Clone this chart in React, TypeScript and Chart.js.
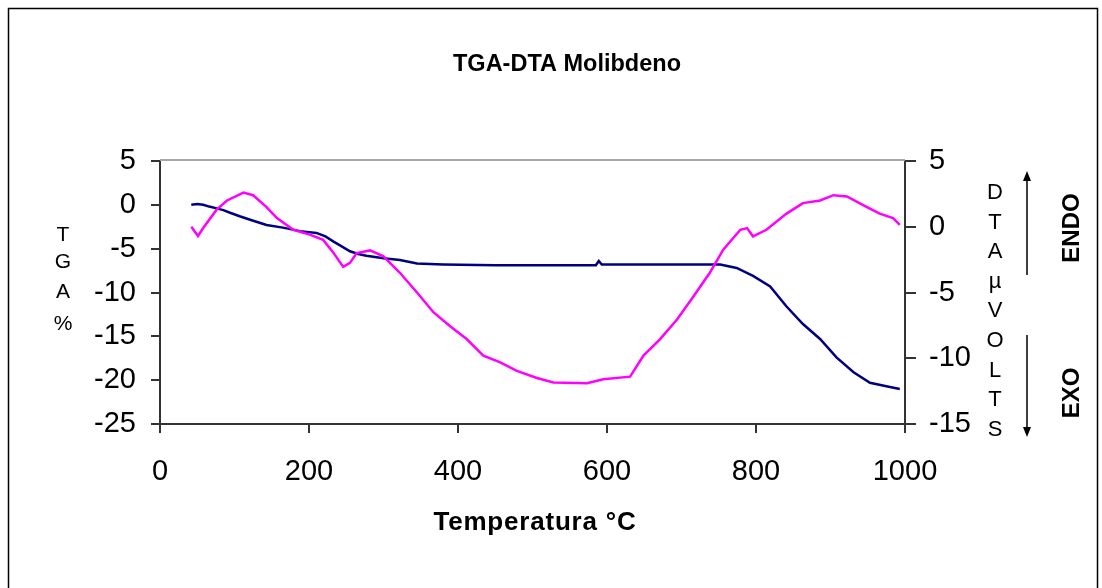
import React, { useEffect, useRef } from "react";
import { Chart, registerables } from "chart.js";
Chart.register(...registerables);

// ---- Data ----
const tgaTemp = [42, 50, 58, 66, 76, 85, 94, 107, 121, 143, 165, 188, 210, 222, 233, 245, 255, 266, 277, 300, 322, 345, 380, 450, 520, 585, 589, 593, 650, 700, 752, 774, 796, 819, 841, 863, 886, 908, 931, 953, 975, 993];
const tgaValues = [0, 0.1, 0, -0.2, -0.4, -0.6, -0.9, -1.3, -1.7, -2.3, -2.6, -3.0, -3.2, -3.6, -4.2, -4.8, -5.3, -5.6, -5.8, -6.1, -6.3, -6.7, -6.8, -6.9, -6.9, -6.9, -6.4, -6.8, -6.8, -6.8, -6.8, -7.2, -8.1, -9.3, -11.6, -13.6, -15.3, -17.4, -19.1, -20.3, -20.7, -21.0];

const dtaTemp = [42, 51, 58, 76, 90, 112, 125, 143, 157, 179, 201, 219, 233, 246, 255, 264, 282, 300, 322, 345, 367, 389, 412, 434, 456, 479, 506, 528, 573, 595, 631, 649, 671, 694, 716, 738, 756, 779, 788, 796, 814, 841, 863, 886, 904, 922, 949, 966, 984, 993];
const dtaValues = [0, -0.7, -0.1, 1.3, 2.0, 2.6, 2.4, 1.5, 0.66, -0.23, -0.6, -1.0, -2.0, -3.05, -2.75, -2.0, -1.8, -2.25, -3.5, -5.0, -6.5, -7.55, -8.56, -9.8, -10.3, -10.96, -11.5, -11.85, -11.9, -11.6, -11.4, -9.8, -8.56, -7.05, -5.3, -3.5, -1.74, -0.23, -0.1, -0.73, -0.23, 1.0, 1.8, 2.0, 2.4, 2.3, 1.5, 1.0, 0.66, 0.15];

const xTicks = [0, 200, 400, 600, 800, 1000];
const tgaTicks = [5, 0, -5, -10, -15, -20, -25];
const dtaTicks = [5, 0, -5, -10, -15];

const chartTitle = "TGA-DTA Molibdeno";
const xTitle = "Temperatura °C";
const leftTitle = ["T", "G", "A", "%"];
const rightTitle = ["D", "T", "A", "µ", "V", "O", "L", "T", "S"];

const FONT = "'Liberation Sans', Arial, sans-serif";

const decorations = {
  id: "decorations",
  beforeDraw(chart: any) {
    const ctx = chart.ctx;
    ctx.save();
    ctx.fillStyle = "#ffffff";
    ctx.fillRect(0, 0, chart.width, chart.height);
    ctx.restore();
  },
  afterDraw(chart: any) {
    const ctx = chart.ctx;
    const a = chart.chartArea;
    ctx.save();
    // outer frame
    ctx.strokeStyle = "#000";
    ctx.lineWidth = 1.5;
    ctx.strokeRect(8.5, 8.5, 1089, 700);
    // gray top border of plot area
    ctx.strokeStyle = "#a6a6a6";
    ctx.lineWidth = 2;
    ctx.beginPath();
    ctx.moveTo(a.left, a.top - 1);
    ctx.lineTo(a.right, a.top - 1);
    ctx.stroke();

    ctx.fillStyle = "#000";
    ctx.textAlign = "center";
    ctx.textBaseline = "middle";
    ctx.font = `bold 23.5px ${FONT}`;
    ctx.fillText(chartTitle, 567, 65);
    ctx.save();
    ctx.font = `bold 26px ${FONT}`;
    (ctx as any).letterSpacing = "0.8px";
    ctx.fillText(xTitle, 535, 523);
    ctx.restore();

    ctx.font = `21px ${FONT}`;
    const ly = [235, 262, 292, 324];
    leftTitle.forEach((t, i) => ctx.fillText(t, 63, ly[i]));
    ctx.font = `22px ${FONT}`;
    rightTitle.forEach((t, i) => ctx.fillText(t, 995, 193 + i * 29.6));

    // arrows
    ctx.strokeStyle = "#000";
    ctx.lineWidth = 1.5;
    ctx.beginPath();
    ctx.moveTo(1027, 275);
    ctx.lineTo(1027, 176);
    ctx.moveTo(1027, 335);
    ctx.lineTo(1027, 432);
    ctx.stroke();
    ctx.beginPath();
    ctx.moveTo(1027, 171);
    ctx.lineTo(1023, 181);
    ctx.lineTo(1031, 181);
    ctx.closePath();
    ctx.moveTo(1027, 437);
    ctx.lineTo(1023, 427);
    ctx.lineTo(1031, 427);
    ctx.closePath();
    ctx.fill();

    // ENDO / EXO
    ctx.font = `bold 24px ${FONT}`;
    ctx.save();
    ctx.translate(1072, 228);
    ctx.rotate(-Math.PI / 2);
    ctx.fillText("ENDO", 0, 0);
    ctx.restore();
    ctx.save();
    ctx.translate(1072, 393);
    ctx.rotate(-Math.PI / 2);
    ctx.fillText("EXO", 0, 0);
    ctx.restore();
    ctx.restore();
  },
};

export default function App() {
  const ref = useRef<HTMLCanvasElement>(null);
  useEffect(() => {
    const tgaData = tgaTemp.map((t, i) => ({ x: t, y: tgaValues[i] }));
    const dtaData = dtaTemp.map((t, i) => ({ x: t, y: dtaValues[i] }));
    const tickFont = { family: FONT, size: 29 };
    const plain = (v: any) => String(v);
    const chart = new Chart(ref.current!, {
      type: "line",
      data: {
        datasets: [
          {
            label: "DTA",
            data: dtaData,
            yAxisID: "y2",
            borderColor: "#ff00ff",
            borderWidth: 2.5,
            pointRadius: 0,
            tension: 0,
            order: 0,
          },
          {
            label: "TGA",
            data: tgaData,
            yAxisID: "y",
            borderColor: "#000080",
            borderWidth: 2.5,
            pointRadius: 0,
            tension: 0,
            order: 1,
          },
        ],
      },
      options: {
        animation: false,
        responsive: true,
        maintainAspectRatio: false,
        layout: { padding: { top: 161, left: 0, right: 0, bottom: 0 } },
        plugins: { legend: { display: false }, tooltip: { enabled: false }, title: { display: false } },
        scales: {
          x: {
            type: "linear",
            min: 0,
            max: 1000,
            afterFit: (s: any) => { s.height = 164; },
            afterBuildTicks: (s: any) => { s.ticks = xTicks.map((v) => ({ value: v })); },
            ticks: { color: "#000", font: tickFont, padding: 22, maxRotation: 0, callback: plain },
            grid: { drawOnChartArea: false, drawTicks: true, tickLength: 9, color: "#333", lineWidth: 2 },
            border: { color: "#333", width: 2 },
          },
          y: {
            type: "linear",
            position: "left",
            min: -25,
            max: 5,
            afterFit: (s: any) => { s.width = 160; },
            afterBuildTicks: (s: any) => { s.ticks = tgaTicks.map((v) => ({ value: v })); },
            ticks: { color: "#000", font: tickFont, padding: 15, callback: plain },
            grid: { drawOnChartArea: false, drawTicks: true, tickLength: 9, color: "#333", lineWidth: 2 },
            border: { color: "#333", width: 2 },
          },
          y2: {
            type: "linear",
            position: "right",
            min: -15,
            max: 5,
            afterFit: (s: any) => { s.width = 197; },
            afterBuildTicks: (s: any) => { s.ticks = dtaTicks.map((v) => ({ value: v })); },
            ticks: { color: "#000", font: tickFont, padding: 13, callback: plain },
            grid: { drawOnChartArea: false, drawTicks: true, tickLength: 11, color: "#333", lineWidth: 2 },
            border: { color: "#333", width: 2 },
          },
        },
      },
      plugins: [decorations],
    });
    return () => chart.destroy();
  }, []);
  return (
    <div style={{ position: "fixed", left: 0, top: 0, width: 1102, height: 588 }}>
      <canvas ref={ref} />
    </div>
  );
}
